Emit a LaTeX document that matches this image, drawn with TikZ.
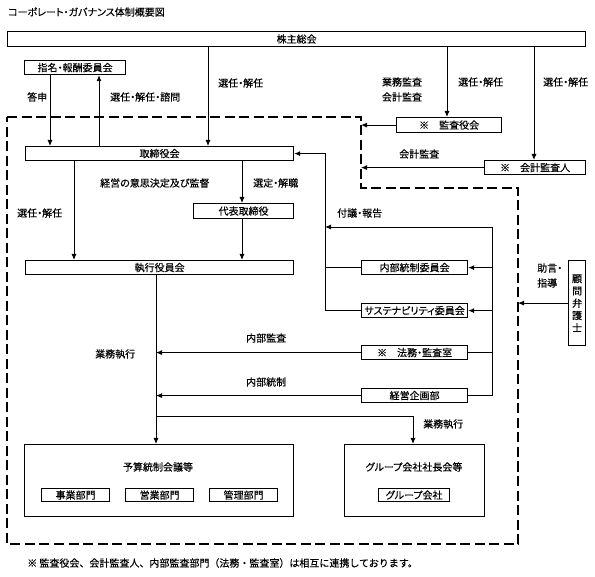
\documentclass[tikz,border=0pt]{standalone}
\usepackage{fontspec}
\setmainfont{Noto Sans CJK JP}[RawFeature=+palt, FakeBold=0.3]
\newfontfamily\plainjp{Noto Sans CJK JP}[FakeBold=0.3]
\usetikzlibrary{arrows.meta}
\newcommand\myfs{\fontsize{10}{11}\selectfont}
\newcommand\bx[6]{\node[box, minimum width={(#4-#2)*1pt}, minimum height={(#5-#3)*1pt}] (#1) at (#2,#3) {#6};}
\begin{document}
\begin{tikzpicture}[x=1pt,y=-1pt,
  box/.style={draw, line width=1.2pt, inner sep=0pt, anchor=north west, font=\myfs},
  arr/.style={-{Latex[length=6pt,width=5pt]}, line width=0.9pt},
  ln/.style={line width=0.9pt},
  lbl/.style={inner sep=0pt, font=\myfs},
  dashbox/.style={line width=2.2pt, dash pattern=on 10pt off 4.5pt}]
\fill[white] (0,0) rectangle (595,577);
\useasboundingbox (0,0) rectangle (595,577);
% title
\node[lbl, anchor=west] (title) at (8,12) {コーポレート・ガバナンス体制概要図};
% boxes
\bx{sh}{7}{31}{585}{46}{株主総会}
\bx{nc}{24}{60}{125}{74}{指名・報酬委員会}
\bx{bd}{25}{146}{293}{160}{取締役会}
\bx{ka}{396}{117}{501}{132}{※　監査役会}
\bx{ad}{484}{160}{585}{174}{※　会計監査人}
\bx{rep}{193}{203}{293}{218}{代表取締役}
\bx{ex}{25}{260}{293}{274}{執行役員会}
\bx{ic}{361}{260}{467}{274}{内部統制委員会}
\bx{sc}{361}{303}{467}{317}{サステナビリティ委員会}
\bx{lg}{361}{345}{467}{359}{※　法務・監査室}
\bx{pl}{361}{388}{467}{402}{経営企画部}
\node[box, align=center, font=\fontsize{10}{12.3}\selectfont, minimum width=17pt, minimum height=85pt] (law) at (568,260) {顧\\問\\弁\\護\\士};
\bx{bud}{24}{444}{293}{516}{}
\node[lbl] (budt) at (158,467) {予算統制会議等};
\bx{b1}{41}{488}{109}{501}{事業部門}
\bx{b2}{125}{488}{193}{501}{営業部門}
\bx{b3}{209}{488}{277}{501}{管理部門}
\bx{grp}{344}{444}{484}{516}{}
\node[lbl] (grpt) at (414,467) {グループ会社社長会等};
\bx{g1}{378}{488}{449}{501}{グループ会社}
% dashed boundary
\draw[dashbox] (7,117) -- (361,117) -- (361,188) -- (518,188) -- (518,544) -- (7,544) -- cycle;
\coordinate (dk) at (361,125);
\coordinate (da) at (361,167);
\coordinate (dl) at (518,303);
% connectors
\draw[arr] (50,0 |- nc.south) -- (50,0 |- bd.north);
\draw[arr] (99,0 |- bd.north) -- (99,0 |- nc.south);
\draw[arr] (208,0 |- sh.south) -- (208,0 |- bd.north);
\draw[arr] (447,0 |- sh.south) -- (447,0 |- ka.north);
\draw[arr] (534,0 |- sh.south) -- (534,0 |- ad.north);
\draw[arr] (ka.west) -- (ka.west -| dk);
\draw[arr] (ad.west) -- (ad.west -| da);
\draw[arr] (law.west) -- (law.west -| dl);
\draw[arr] (74,0 |- bd.south) -- (74,0 |- ex.north);
\draw[arr] (242,0 |- bd.south) -- (242,0 |- rep.north);
\draw[arr] (242,0 |- rep.south) -- (242,0 |- ex.north);
\coordinate (fbL) at (325,227);
\coordinate (fbR) at (492,227);
\draw[arr] (fbR) -- (fbL);
\draw[ln] (fbR) -- (fbR |- pl.east) -- (pl.east);
\draw[arr] (fbR |- ic.east) -- (ic.east);
\draw[arr] (fbR |- sc.east) -- (sc.east);
\draw[ln] (lg.east) -- (lg.east -| fbR);
\draw[arr] (sc.west) -- (sc.west -| fbL) -- (fbL |- bd.east) -- (bd.east);
\draw[ln] (ic.west) -- (ic.west -| fbL);
\coordinate (xe) at (156,0);
\draw[arr] (lg.west) -- (lg.west -| xe);
\draw[arr] (pl.west) -- (pl.west -| xe);
\draw[arr] (xe |- ex.south) -- (xe |- bud.north);
\coordinate (gt) at (156,416);
\coordinate (gr) at (413,416);
\draw[arr] (gt) -- (gr) -- (gr |- grp.north);
% labels
\node[lbl, anchor=west] at (27,97) {答申};
\node[lbl, anchor=west] at (110,97) {選任・解任・諮問};
\node[lbl, anchor=west] at (218,83) {選任・解任};
\node[lbl, align=center, font=\fontsize{10}{15}\selectfont] at (402,89.5) {業務監査\\会計監査};
\node[lbl, anchor=west] at (458,82) {選任・解任};
\node[lbl, anchor=west] at (543,82) {選任・解任};
\node[lbl, anchor=west] at (399,154) {会計監査};
\node[lbl, anchor=west] at (100,183) {経営の意思決定及び監督};
\node[lbl, anchor=west] at (253,183) {選定・解職};
\node[lbl, anchor=west] at (17,213) {選任・解任};
\node[lbl, anchor=west] at (337,213) {付議・報告};
\node[lbl, anchor=west, align=left, font=\fontsize{10}{15}\selectfont] at (537,275.5) {助言・\\指導};
\node[lbl, anchor=west] at (246,338) {内部監査};
\node[lbl, anchor=west] at (95,354) {業務執行};
\node[lbl, anchor=west] at (246,382) {内部統制};
\node[lbl, anchor=west] at (423,424) {業務執行};
\node[lbl, anchor=west, font=\myfs\plainjp] at (27,563) {※ 監査役会、会計監査人、内部監査部門（法務・監査室）は相互に連携しております。};
\end{tikzpicture}
\end{document}
